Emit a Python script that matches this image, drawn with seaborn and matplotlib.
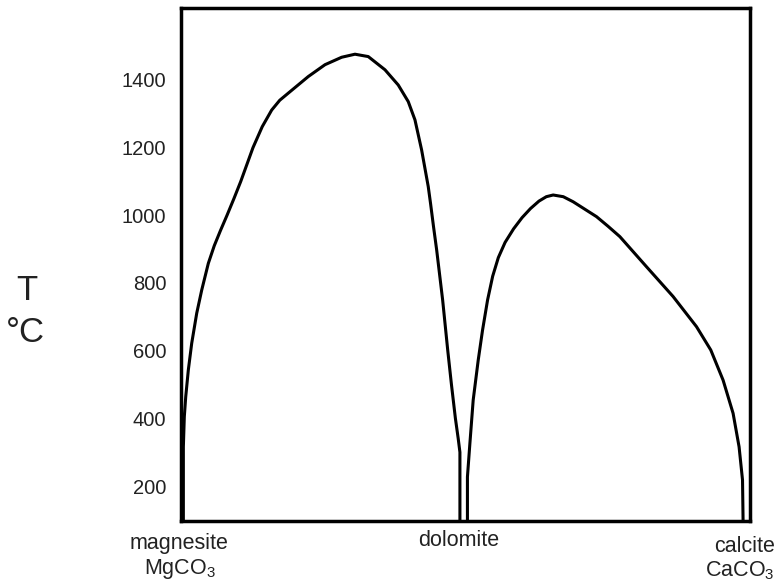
import seaborn as sns
import matplotlib.pyplot as plt
import pandas as pd

# Mg-Ca carbonate solvus, x = mole fraction CaCO3
mag_dol_x = [0.0103, 0.0103, 0.0120, 0.0145, 0.0191, 0.0251, 0.0340, 0.0428, 0.0545, 0.0650,
             0.0760, 0.0876, 0.1000, 0.1119, 0.1336, 0.1500, 0.1667, 0.1810, 0.1961, 0.2315,
             0.2611, 0.2906, 0.3142, 0.3377, 0.3673, 0.3908, 0.4085, 0.4204, 0.4322, 0.4439,
             0.4480, 0.4533, 0.4588, 0.4694, 0.4785, 0.4850, 0.4920, 0.4970, 0.5000, 0.5000]
mag_dol_t = [97, 316, 405, 464, 543, 622, 711, 779, 858, 910,
             955, 1000, 1050, 1100, 1200, 1262, 1311, 1340, 1361, 1410,
             1445, 1467, 1476, 1469, 1430, 1385, 1336, 1282, 1193, 1085,
             1035, 966, 898, 750, 600, 500, 400, 340, 300, 97]

dol_cal_x = [0.5133, 0.5133, 0.5177, 0.5235, 0.5324, 0.5400, 0.5490, 0.5580, 0.5680, 0.5800,
             0.5950, 0.6100, 0.6250, 0.6400, 0.6530, 0.6651, 0.6830, 0.7005, 0.7419, 0.7620,
             0.7832, 0.8304, 0.8775, 0.9189, 0.9442, 0.9660, 0.9837, 0.9943, 1.0004, 1.0014]
dol_cal_t = [97, 227, 327, 454, 572, 660, 750, 820, 875, 920,
             960, 993, 1020, 1042, 1055, 1060, 1055, 1040, 996, 968,
             937, 848, 760, 671, 602, 513, 415, 316, 218, 97]

y_ticks = [200, 400, 600, 800, 1000, 1200, 1400]
x_ticks = [0.1, 0.2, 0.3, 0.4, 0.6, 0.7, 0.8, 0.9]

df = pd.concat([
    pd.DataFrame({"x": mag_dol_x, "T": mag_dol_t, "loop": "magnesite-dolomite"}),
    pd.DataFrame({"x": dol_cal_x, "T": dol_cal_t, "loop": "dolomite-calcite"}),
])

sns.set_style("white")
plt.rcParams['font.family'] = ['Liberation Sans', 'DejaVu Sans']
plt.rcParams['mathtext.default'] = 'regular'
txt = "#222222"

fig = plt.figure(figsize=(7.77, 5.84), dpi=100)
ax = fig.add_axes([0.233, 0.108, 0.732, 0.878])

sns.lineplot(data=df, x="x", y="T", units="loop", estimator=None, sort=False,
             color="black", linewidth=2.2, ax=ax)

ax.set_xlim(0.0062, 1.0133)
ax.set_ylim(97, 1612)
ax.set_yticks(y_ticks)
ax.set_xticks(x_ticks)
ax.set_xticklabels([])
ax.tick_params(axis="both", direction="in", length=5, width=1.5, color="black",
               labelcolor=txt, labelsize=14.5)
ax.tick_params(axis="y", pad=10.5)
ax.set_xlabel("")
ax.set_ylabel("")
for s in ax.spines.values():
    s.set_linewidth(2.5)
    s.set_color("black")

fig.text(27 / 777, 1 - 291 / 584, "T", fontsize=25, ha="center", va="center", color=txt)
fig.text(25 / 777, 1 - 332 / 584, "°C", fontsize=25, ha="center", va="center", color=txt)

fig.text(179 / 777, 1 - 544 / 584, "magnesite", fontsize=15.5, ha="center", va="center", color=txt)
fig.text(180 / 777, 1 - 569 / 584, "MgCO$_3$", fontsize=15.5, ha="center", va="center", color=txt)
fig.text(459 / 777, 1 - 541 / 584, "dolomite", fontsize=15.5, ha="center", va="center", color=txt)
fig.text(745 / 777, 1 - 547 / 584, "calcite", fontsize=15.5, ha="center", va="center", color=txt)
fig.text(775 / 777, 1 - 571 / 584, "CaCO$_3$", fontsize=15.5, ha="right", va="center", color=txt)

fig.savefig("out.png", dpi=100)
